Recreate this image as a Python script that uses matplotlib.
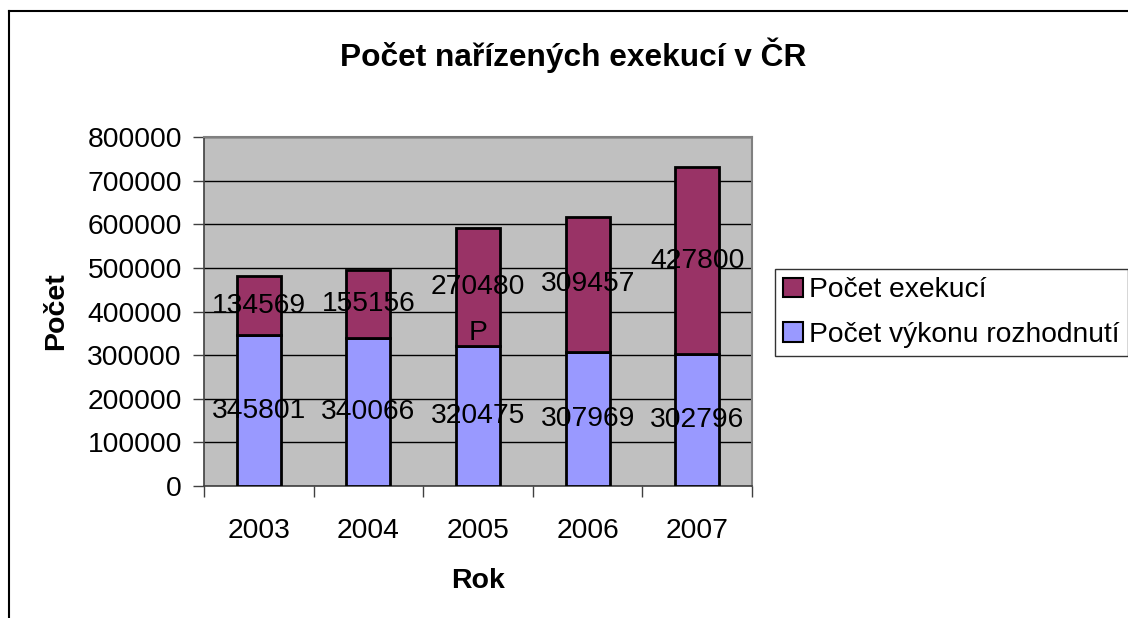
import matplotlib
matplotlib.use("Agg")
import matplotlib.pyplot as plt
from matplotlib.patches import Patch
from matplotlib.lines import Line2D
import numpy as np

plt.rcParams['font.family'] = ['Liberation Sans', 'DejaVu Sans']

years = ["2003", "2004", "2005", "2006", "2007"]
vykon = [345801, 340066, 320475, 307969, 302796]
exekuce = [134569, 155156, 270480, 309457, 427800]
title = "Počet nařízených exekucí v ČR"
label_vykon = "Počet výkonu rozhodnutí"
label_exekuce = "Počet exekucí"
yticks = [0, 100000, 200000, 300000, 400000, 500000, 600000, 700000, 800000]

W, H = 1128, 618
fig = plt.figure(figsize=(W / 100, H / 100), dpi=100)
ax = fig.add_axes([204 / W, 1 - 486 / H, (752 - 204) / W, (486 - 137) / H])
ax.set_facecolor('#C0C0C0')

x = np.arange(len(years))
c_vyk = '#9999FF'
c_exe = '#993366'
ax.bar(x, vykon, width=0.4, color=c_vyk, edgecolor='black', linewidth=2, zorder=3)
ax.bar(x, exekuce, width=0.4, bottom=vykon, color=c_exe, edgecolor='black', linewidth=2, zorder=3)

fs = 20.3
for i in range(len(years)):
    ax.text(x[i], vykon[i] / 2, str(vykon[i]), ha='center', va='center', fontsize=fs, zorder=5)
    ax.text(x[i], vykon[i] + exekuce[i] / 2, str(exekuce[i]), ha='center', va='center', fontsize=fs, zorder=5)
# stray label seen in the original
ax.text(x[2], 351000, "P", ha='center', va='center', fontsize=fs, zorder=5)

ax.set_xlim(-0.5, len(years) - 0.5)
ax.set_ylim(0, 800000)
ax.set_yticks(yticks)
ax.set_yticklabels([str(v) for v in yticks], fontsize=fs)
ax.yaxis.grid(True, color='black', linewidth=1, zorder=1)
ax.set_axisbelow(True)

ax.set_xticks(x)
ax.set_xticklabels(years, fontsize=fs)
ax.set_xticks(np.arange(len(years) + 1) - 0.5, minor=True)
ax.tick_params(axis='x', which='major', length=0, pad=23)
ax.tick_params(axis='x', which='minor', length=8, width=1, color='#404040', direction='out')
ax.tick_params(axis='y', length=8, width=1, color='#404040', direction='out', pad=8)

for s in ['top', 'right']:
    ax.spines[s].set_color('#808080')
    ax.spines[s].set_linewidth(1.5)
for s in ['left', 'bottom']:
    ax.spines[s].set_color('#404040')
    ax.spines[s].set_linewidth(1.2)

ax.set_ylabel("Počet", fontsize=20.5, fontweight='bold', labelpad=13)
ax.set_xlabel("Rok", fontsize=20.5, fontweight='bold', labelpad=17)

fig.text(573 / W, 1 - 55 / H, title, ha='center', va='center', fontsize=22.8, fontweight='bold')

handles = [Patch(facecolor=c_exe, edgecolor='black', linewidth=1.5, label=label_exekuce),
           Patch(facecolor=c_vyk, edgecolor='black', linewidth=1.5, label=label_vykon)]
leg = fig.legend(handles=handles, loc='upper left', bbox_to_anchor=(775 / W, 1 - 269 / H),
                 fontsize=fs, frameon=True, fancybox=False, handlelength=0.7, handleheight=0.7,
                 handletextpad=0.2, borderpad=0.3, labelspacing=0.65, borderaxespad=0)
leg.get_frame().set_edgecolor('black')
leg.get_frame().set_linewidth(1)

# outer chart frame (left and top visible)
fig.add_artist(Line2D([8.5 / W, 8.5 / W], [0, 1 - 11 / H], color='black', linewidth=1.5, transform=fig.transFigure))
fig.add_artist(Line2D([8.5 / W, 1], [1 - 11 / H, 1 - 11 / H], color='black', linewidth=1.5, transform=fig.transFigure))

fig.savefig('out.png', dpi=100)
